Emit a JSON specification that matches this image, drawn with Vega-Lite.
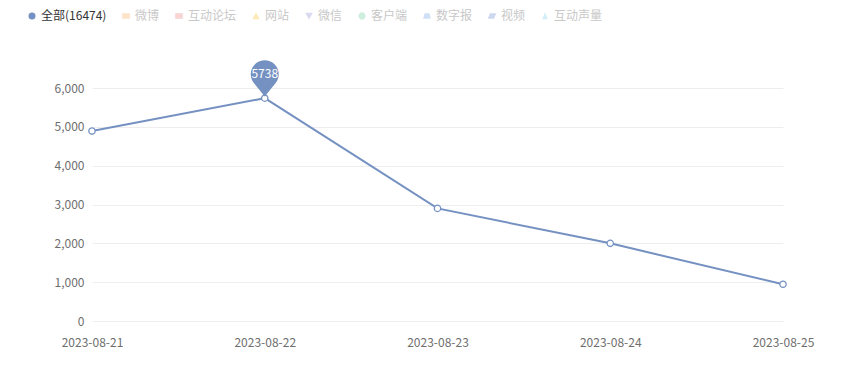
{
  "$schema": "https://vega.github.io/schema/vega-lite/v6.json",
  "autosize": "none",
  "width": 691,
  "height": 233,
  "padding": {"left": 92, "top": 88, "right": 77, "bottom": 44},
  "background": "white",
  "config": {
    "view": {"stroke": null},
    "font": "Noto Sans CJK SC",
    "axis": {"labelFont": "Noto Sans CJK SC", "labelFontSize": 12, "labelColor": "#6e6e6e"}
  },
  "data": {
    "values": [
      {"date": "2023-08-21", "count": 4891, "series": "全部(16474)"},
      {"date": "2023-08-22", "count": 5738, "series": "全部(16474)"},
      {"date": "2023-08-23", "count": 2900, "series": "全部(16474)"},
      {"date": "2023-08-24", "count": 2000, "series": "全部(16474)"},
      {"date": "2023-08-25", "count": 945, "series": "全部(16474)"}
    ]
  },
  "encoding": {
    "x": {
      "field": "date", "type": "ordinal",
      "scale": {"type": "point", "padding": 0},
      "axis": {"title": null, "labelAngle": 0, "domain": false, "ticks": false, "labelPadding": 16, "grid": false}
    },
    "y": {
      "field": "count", "type": "quantitative",
      "scale": {"domain": [0, 6000], "nice": false},
      "axis": {"title": null, "values": [0, 1000, 2000, 3000, 4000, 5000, 6000], "format": ",d", "domain": false, "ticks": false, "labelPadding": 8, "gridColor": "#eeeeee", "gridWidth": 1}
    }
  },
  "layer": [
    {
      "mark": {"type": "line", "strokeWidth": 2},
      "encoding": {
        "color": {
          "field": "series", "type": "nominal",
          "scale": {
            "domain": ["全部(16474)", "微博", "互动论坛", "网站", "微信", "客户端", "数字报", "视频", "互动声量"],
            "range": ["#7591c2", "#fde3c8", "#f8d5d5", "#fdeab9", "#d9d9ef", "#cdeedd", "#cfe0f4", "#cdd7ef", "#d3eef9"]
          },
          "legend": {
            "orient": "none", "legendX": -66, "legendY": -78,
            "direction": "horizontal", "title": null,
            "labelFont": "Noto Sans CJK SC", "labelFontSize": 12,
            "symbolSize": 49, "columnPadding": 13, "labelOffset": 3,
            "encode": {
              "labels": {"update": {"fill": {"signal": "datum.value == '全部(16474)' ? '#333333' : '#c8c8c8'"}}},
              "symbols": {"update": {"fill": {"scale": "color", "field": "value"}, "strokeWidth": {"value": 0}, "shape": {"scale": "shape", "field": "value"}, "opacity": {"value": 1}}}
            }
          }
        }
      }
    },
    {
      "mark": {"type": "point", "filled": false, "fill": "white", "size": 40, "strokeWidth": 1.3, "opacity": 1},
      "encoding": {
        "color": {"field": "series", "type": "nominal"},
        "shape": {
          "field": "series", "type": "nominal",
          "scale": {
            "domain": ["全部(16474)", "微博", "互动论坛", "网站", "微信", "客户端", "数字报", "视频", "互动声量"],
            "range": ["circle", "M-1.1,-0.8H1.1V0.8H-1.1Z", "M-1.1,-0.8H1.1V0.8H-1.1Z", "M0,-1L1.1,0.9H-1.1Z", "M-1.1,-0.9H1.1L0,1Z", "M-0.55,-1H0.55L1.1,0L0.55,1H-0.55L-1.1,0Z", "M-0.7,-0.8H0.7L1.1,0.8H-1.1Z", "M-0.6,-0.8H1.2L0.6,0.8H-1.2Z", "M0,-1.1L0.8,0.9H-0.8Z"]
          },
          "legend": null
        }
      }
    },
    {
      "transform": [
        {"joinaggregate": [{"op": "max", "field": "count", "as": "maxv"}]},
        {"filter": "datum.count == datum.maxv"}
      ],
      "mark": {"type": "point", "filled": true, "color": "#7591c2", "opacity": 1, "size": 784, "yOffset": -24, "strokeWidth": 0,
        "shape": "M-0.78,0.625A1,1,0,1,1,0.78,0.625L0,1.6Z"}
    },
    {
      "transform": [
        {"joinaggregate": [{"op": "max", "field": "count", "as": "maxv"}]},
        {"filter": "datum.count == datum.maxv"}
      ],
      "mark": {"type": "text", "color": "white", "fontSize": 12, "yOffset": -24, "font": "Noto Sans CJK SC", "baseline": "middle"},
      "encoding": {"text": {"field": "count", "type": "quantitative", "format": "d"}}
    }
  ]
}
